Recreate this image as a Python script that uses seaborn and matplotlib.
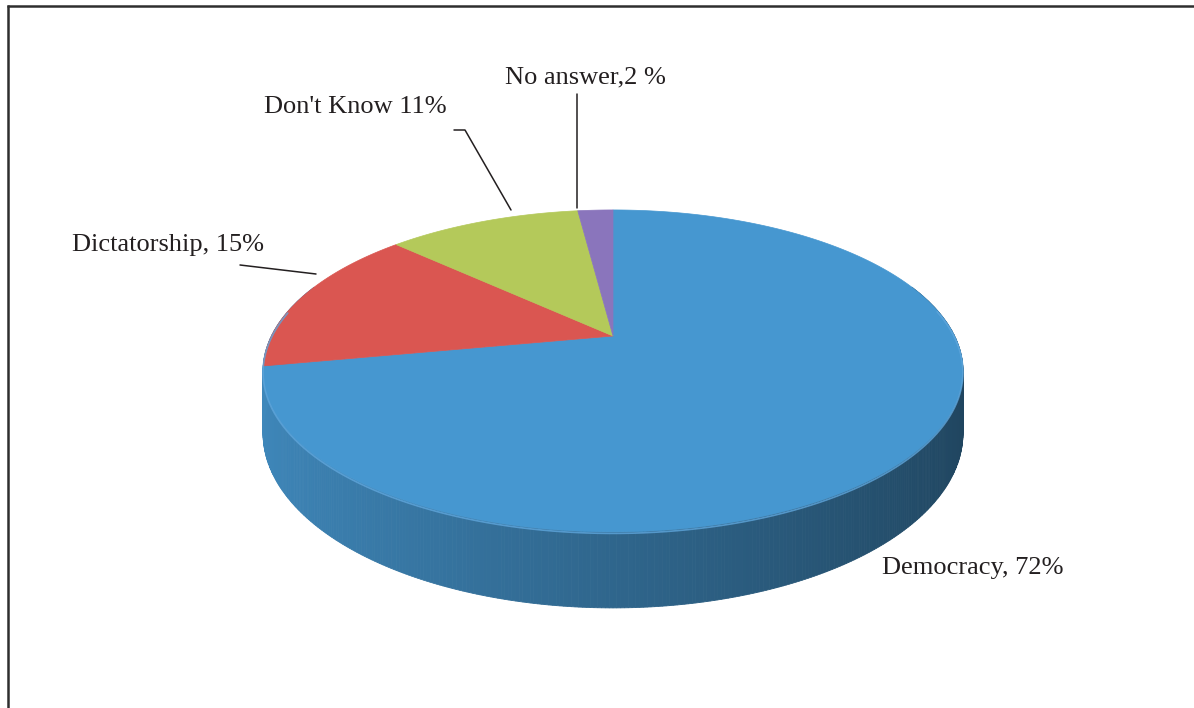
import numpy as np
import matplotlib
matplotlib.use('Agg')
import matplotlib.pyplot as plt
import seaborn as sns
from matplotlib.colors import to_rgb

# data
categories = ['Democracy', 'Dictatorship', "Don't Know", 'No answer']
values = [72, 15, 11, 2]
label_texts = ['Democracy, 72%', 'Dictatorship, 15%', "Don't Know 11%", 'No answer,2 %']
colors = ['#4697D0', '#DA5651', '#B4C95A', '#8A75BC']

sns.set_theme(style='white')
plt.rcParams['font.family'] = ['Liberation Serif', 'DejaVu Serif']

fig = plt.figure(figsize=(11.94, 7.08), dpi=100)
ax = fig.add_axes([0, 0, 1, 1])
ax.set_xlim(0, 1194)
ax.set_ylim(708, 0)
ax.axis('off')

# perspective "3D" pie, pixel units
cx, cy = 613, 336
A, B, k, T = 341.6, 153.4, 0.217, 59.5


def proj(theta_deg):
    t = np.radians(theta_deg)
    u, v = np.sin(t), -np.cos(t)
    w = 1 - k * v
    return cx + A * u / w, cy + B * v / w, T / w, u


bounds = np.concatenate([[0], np.cumsum(values)]) / sum(values) * 360

# side wall (front half only), shaded left->right; the front wall is the big slice
side_col = np.array(to_rgb(colors[0]))
thetas = np.arange(70, 290.01, 0.5)
for t0, t1 in zip(thetas[:-1], thetas[1:]):
    x0, y0, d0, u0 = proj(t0)
    x1, y1, d1, u1 = proj(t1)
    f = 0.675 - 0.225 * (u0 + u1) / 2
    c = np.clip(side_col * f, 0, 1)
    ax.fill([x0, x1, x1, x0], [y0, y1, y1 + d1, y0 + d0], color=c, lw=0.6, ec=c)

# rim highlight
rt = np.arange(80, 280, 0.5)
rx, ry, _, _ = proj(rt)
ax.plot(rx, ry + 1.5, color='#5FA6DC', lw=1.2, alpha=0.8)

# top face
for i, col in enumerate(colors):
    arc = np.linspace(bounds[i], bounds[i + 1], max(int((bounds[i + 1] - bounds[i]) * 2), 4))
    px, py, _, _ = proj(arc)
    ax.fill(np.concatenate([[cx], px]), np.concatenate([[cy], py]),
            color=col, ec=col, lw=0.5)

# labels with leader lines
txt = dict(fontsize=19, color='#231F20', va='center', ha='left')
ax.text(882, 568, label_texts[0], **txt)
ax.text(72, 245, label_texts[1], **txt)
ax.text(264, 107, label_texts[2], **txt)
ax.text(505, 77, label_texts[3], **txt)

lc = dict(color='#231F20', lw=1.1)
ax.plot([240, 316], [265, 274], **lc)
ax.plot([454, 465, 511], [130, 130, 210], **lc)
ax.plot([577, 577], [94, 208], **lc)

# outer frame
fc = dict(color='#2E2E2E', lw=1.8, clip_on=False, solid_capstyle='butt')
ax.plot([7.5, 7.5], [5, 720], **fc)
ax.plot([7, 1200], [5.5, 5.5], **fc)

fig.savefig('out.png', dpi=100)
